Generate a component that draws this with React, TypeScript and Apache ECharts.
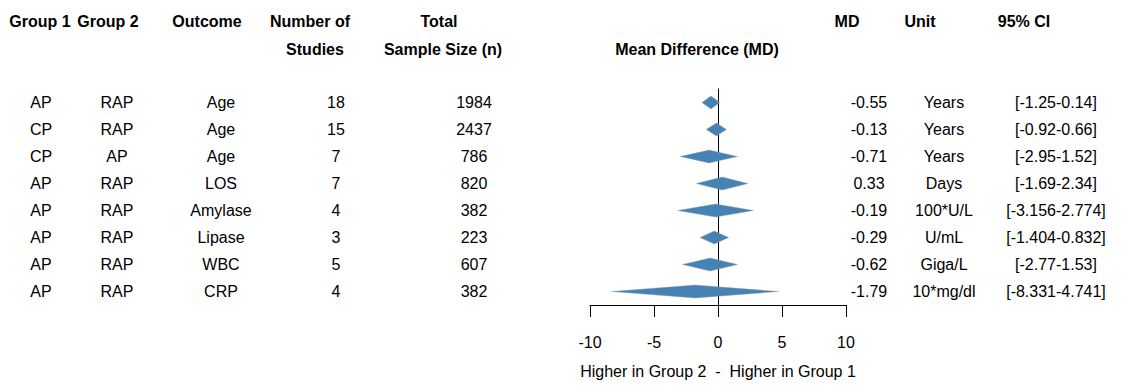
import React, { useEffect, useRef } from "react";
import * as echarts from "echarts";

const group1 = ["AP", "CP", "CP", "AP", "AP", "AP", "AP", "AP"];
const group2 = ["RAP", "RAP", "AP", "RAP", "RAP", "RAP", "RAP", "RAP"];
const outcomes = ["Age", "Age", "Age", "LOS", "Amylase", "Lipase", "WBC", "CRP"];
const studies = [18, 15, 7, 7, 4, 3, 5, 4];
const sampleSizes = [1984, 2437, 786, 820, 382, 223, 607, 382];
const meanDiff = [-0.55, -0.13, -0.71, 0.33, -0.19, -0.29, -0.62, -1.79];
const units = ["Years", "Years", "Years", "Days", "100*U/L", "U/mL", "Giga/L", "10*mg/dl"];
const ciLow = [-1.25, -0.92, -2.95, -1.69, -3.156, -1.404, -2.77, -8.331];
const ciHigh = [0.14, 0.66, 1.52, 2.34, 2.774, 0.832, 1.53, 4.741];
const xTicks = [-10, 10, 5]; // min, max, interval

const FONT = "'Liberation Sans', Arial, sans-serif";

export default function App() {
  const ref = useRef<HTMLDivElement>(null);
  useEffect(() => {
    if (!ref.current) return;
    const chart = echarts.init(ref.current, null, { renderer: "svg" });

    const rows = meanDiff.map((_, i) => i + 1);
    const diamondData = meanDiff.map((m, i) => [m, ciLow[i], ciHigh[i], i + 1]);

    const colX = [41, 117, 221, 336, 474, 869, 944, 1056];
    const txt = (text: string, x: number, y: number, bold = false) => ({
      type: "text",
      x,
      y,
      silent: true,
      style: {
        text,
        align: "center",
        verticalAlign: "middle",
        fontSize: 16,
        fontWeight: bold ? "bold" : "normal",
        fontFamily: FONT,
        fill: "#000",
      },
    });

    const headers = [
      ["Group 1", 40, 21],
      ["Group 2", 108, 21],
      ["Outcome", 207, 21],
      ["Number of", 310, 21],
      ["Studies", 315, 49],
      ["Total", 439, 21],
      ["Sample Size (n)", 443, 49],
      ["Mean Difference (MD)", 697, 49],
      ["MD", 847, 21],
      ["Unit", 920, 21],
      ["95% CI", 1024, 21],
    ];

    chart.setOption({
      animation: false,
      grid: { left: 590, right: 278, top: 89, bottom: 84, containLabel: false },
      xAxis: {
        type: "value",
        min: xTicks[0],
        max: xTicks[1],
        interval: xTicks[2],
        name: "Higher in Group 2  -  Higher in Group 1",
        nameLocation: "middle",
        nameGap: 58,
        nameTextStyle: { fontSize: 16, color: "#000", fontFamily: FONT },
        axisLine: { show: true, onZero: false, lineStyle: { color: "#000", width: 1 } },
        axisTick: { show: true, inside: false, length: 12, lineStyle: { color: "#000", width: 1 } },
        axisLabel: { fontSize: 16, color: "#000", fontFamily: FONT, margin: 29 },
        splitLine: { show: false },
      },
      yAxis: {
        type: "value",
        inverse: true,
        min: 0.5,
        max: 8.5,
        axisLine: { show: true, onZero: true, lineStyle: { color: "#000", width: 1 } },
        axisTick: { show: false },
        axisLabel: { show: false },
        splitLine: { show: false },
      },
      graphic: headers.map(([t, x, y]) => txt(t as string, x as number, y as number, true)),
      series: [
        {
          type: "custom",
          data: diamondData,
          encode: { x: [0, 1, 2], y: 3 },
          renderItem: (params: any, api: any) => {
            const m = api.value(0);
            const lo = api.value(1);
            const hi = api.value(2);
            const r = api.value(3);
            const c = api.coord([m, r]);
            const l = api.coord([lo, r]);
            const h = api.coord([hi, r]);
            const hh = 6.5;
            return {
              type: "polygon",
              shape: {
                points: [
                  [l[0], c[1]],
                  [c[0], c[1] - hh],
                  [h[0], c[1]],
                  [c[0], c[1] + hh],
                ],
              },
              style: { fill: "#4682B4", stroke: "rgba(150,160,170,0.7)", lineWidth: 0.6 },
            };
          },
          z: 3,
        },
        {
          type: "custom",
          data: rows.map((r) => [0, r]),
          encode: { x: 0, y: 1 },
          clip: false,
          renderItem: (params: any, api: any) => {
            const i = params.dataIndex;
            const y = api.coord([0, api.value(1)])[1];
            const vals = [
              group1[i],
              group2[i],
              outcomes[i],
              String(studies[i]),
              String(sampleSizes[i]),
              meanDiff[i].toFixed(2),
              units[i],
              `[${ciLow[i]}-${ciHigh[i]}]`,
            ];
            return {
              type: "group",
              children: vals.map((v, k) => txt(v, colX[k], y)),
            };
          },
        },
      ],
    });
    return () => chart.dispose();
  }, []);
  return (
    <div
      ref={ref}
      style={{ position: "absolute", left: 0, top: 0, width: 1124, height: 389, background: "#fff" }}
    />
  );
}
